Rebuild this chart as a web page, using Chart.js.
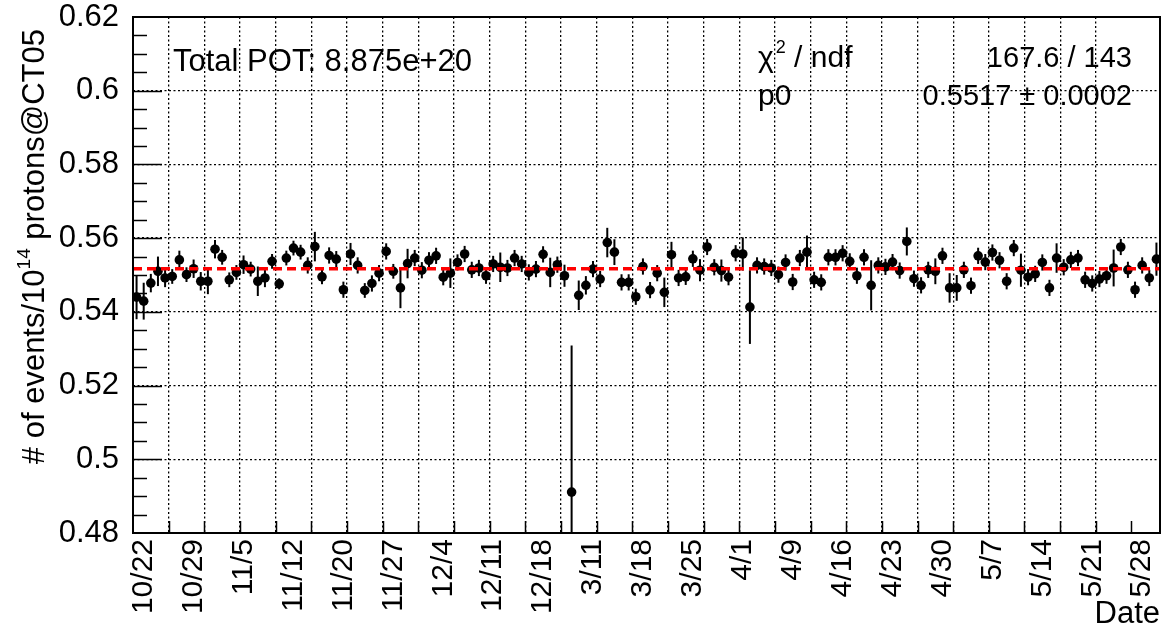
<!DOCTYPE html>
<html>
<head>
<meta charset="utf-8">
<script src="https://cdn.jsdelivr.net/npm/chart.js@4.4.1/dist/chart.umd.min.js"></script>
<style>
  html, body { margin: 0; padding: 0; background: #fff; }
  #wrap { width: 1165px; height: 633px; }
</style>
</head>
<body>
<div id="wrap"><canvas id="rateChart" width="1165" height="633"></canvas></div>
<script>
const FONT = "'Liberation Sans', Arial, Helvetica, sans-serif";

// one label every 7th bin, starting at bin 1
const dateLabels = ["10/22", "10/29", "11/5", "11/12", "11/20", "11/27", "12/4", "12/11", "12/18",
  "3/11", "3/18", "3/25", "4/1", "4/9", "4/16", "4/23", "4/30", "5/7", "5/14", "5/21", "5/28"];
const labelFirstBin = 1;
const labelEvery = 7;

// events per 1e14 protons, one value per bin
const rate = [
  0.5440, 0.5429, 0.5478, 0.5510, 0.5492, 0.5496, 0.5541, 0.5501, 0.5517, 0.5483,
  0.5483, 0.5570, 0.5548, 0.5487, 0.5507, 0.5528, 0.5516, 0.5483, 0.5492, 0.5537,
  0.5476, 0.5546, 0.5573, 0.5562, 0.5526, 0.5577, 0.5495, 0.5553, 0.5543, 0.5460,
  0.5557, 0.5526, 0.5458, 0.5477, 0.5505, 0.5564, 0.5510, 0.5465, 0.5531, 0.5546,
  0.5513, 0.5540, 0.5552, 0.5494, 0.5505, 0.5534, 0.5557, 0.5514, 0.5519, 0.5498,
  0.5530, 0.5521, 0.5519, 0.5546, 0.5530, 0.5507, 0.5516, 0.5556, 0.5507, 0.5528,
  0.5498, 0.4911, 0.5445, 0.5472, 0.5516, 0.5489, 0.5588, 0.5562, 0.5480, 0.5480,
  0.5441, 0.5523, 0.5459, 0.5505, 0.5453, 0.5555, 0.5492, 0.5495, 0.5544, 0.5513,
  0.5576, 0.5521, 0.5512, 0.5494, 0.5559, 0.5557, 0.5413, 0.5526, 0.5523, 0.5519,
  0.5501, 0.5534, 0.5481, 0.5546, 0.5562, 0.5487, 0.5480, 0.5548, 0.5548, 0.5559,
  0.5537, 0.5498, 0.5548, 0.5472, 0.5526, 0.5522, 0.5535, 0.5512, 0.5591, 0.5490,
  0.5472, 0.5514, 0.5510, 0.5552, 0.5465, 0.5465, 0.5514, 0.5471, 0.5552, 0.5535,
  0.5561, 0.5540, 0.5483, 0.5573, 0.5513, 0.5494, 0.5503, 0.5534, 0.5465, 0.5546,
  0.5521, 0.5541, 0.5546, 0.5487, 0.5477, 0.5489, 0.5498, 0.5519, 0.5576, 0.5514,
  0.5460, 0.5526, 0.5492, 0.5543
];

const rateErr = [
  0.0060, 0.0050, 0.0025, 0.0040, 0.0025, 0.0020, 0.0025, 0.0020, 0.0025, 0.0025,
  0.0035, 0.0025, 0.0020, 0.0020, 0.0020, 0.0025, 0.0020, 0.0040, 0.0025, 0.0020,
  0.0015, 0.0020, 0.0020, 0.0020, 0.0022, 0.0040, 0.0020, 0.0022, 0.0022, 0.0022,
  0.0030, 0.0022, 0.0020, 0.0022, 0.0022, 0.0022, 0.0020, 0.0055, 0.0040, 0.0022,
  0.0022, 0.0022, 0.0022, 0.0022, 0.0040, 0.0022, 0.0022, 0.0022, 0.0022, 0.0022,
  0.0022, 0.0040, 0.0022, 0.0022, 0.0022, 0.0022, 0.0022, 0.0022, 0.0040, 0.0022,
  0.0030, 0.0398, 0.0040, 0.0025, 0.0022, 0.0022, 0.0040, 0.0035, 0.0022, 0.0022,
  0.0022, 0.0022, 0.0022, 0.0022, 0.0040, 0.0035, 0.0022, 0.0022, 0.0022, 0.0030,
  0.0022, 0.0022, 0.0030, 0.0022, 0.0022, 0.0045, 0.0100, 0.0022, 0.0022, 0.0022,
  0.0022, 0.0022, 0.0022, 0.0022, 0.0045, 0.0022, 0.0022, 0.0022, 0.0022, 0.0022,
  0.0022, 0.0022, 0.0022, 0.0068, 0.0022, 0.0022, 0.0022, 0.0022, 0.0038, 0.0022,
  0.0022, 0.0022, 0.0035, 0.0022, 0.0040, 0.0035, 0.0022, 0.0022, 0.0022, 0.0022,
  0.0022, 0.0022, 0.0022, 0.0022, 0.0045, 0.0022, 0.0022, 0.0022, 0.0022, 0.0040,
  0.0022, 0.0022, 0.0022, 0.0022, 0.0022, 0.0022, 0.0022, 0.0050, 0.0022, 0.0022,
  0.0022, 0.0022, 0.0022, 0.0045
];

// constant fit results
const fitP0 = 0.5517;
const fitP0Err = 0.0002;
const fitChi2 = 167.6;
const fitNdf = 143;
const totalPot = "8.875e+20";

const Y_MIN = 0.48;
const Y_MAX = 0.62;

function yLabel(v) {
  return Number(v.toFixed(2)).toString();
}

function font(size) {
  return `${size}px ${FONT}`;
}

// vertical error bars under the markers
const errorBars = {
  id: "errorBars",
  beforeDatasetsDraw(chart) {
    const { ctx, chartArea, scales } = chart;
    ctx.save();
    ctx.beginPath();
    ctx.rect(chartArea.left, chartArea.top, chartArea.right - chartArea.left, chartArea.bottom - chartArea.top);
    ctx.clip();
    ctx.strokeStyle = "#000";
    ctx.lineWidth = 2;
    rate.forEach((v, i) => {
      const x = scales.x.getPixelForValue(i + 0.5);
      ctx.beginPath();
      ctx.moveTo(x, scales.y.getPixelForValue(v - rateErr[i]));
      ctx.lineTo(x, scales.y.getPixelForValue(v + rateErr[i]));
      ctx.stroke();
    });
    ctx.restore();
  }
};

// frame, inward tick marks and text boxes
const frame = {
  id: "frame",
  afterDraw(chart) {
    const { ctx, chartArea, scales } = chart;
    const { left, right, top, bottom } = chartArea;
    ctx.save();
    ctx.strokeStyle = "#000";

    ctx.lineWidth = 1.5;
    for (let b = 5; b < rate.length; b += 5) {
      const x = Math.round(scales.x.getPixelForValue(b)) + 0.5;
      ctx.beginPath();
      ctx.moveTo(x, bottom);
      ctx.lineTo(x, bottom - 12);
      ctx.stroke();
    }
    for (let k = 1; k < 28; k++) {
      const v = Y_MIN + k * 0.005;
      const y = Math.round(scales.y.getPixelForValue(v)) + 0.5;
      ctx.beginPath();
      ctx.moveTo(left, y);
      ctx.lineTo(left + (k % 4 === 0 ? 29 : 14), y);
      ctx.stroke();
    }

    ctx.lineWidth = 2;
    ctx.strokeRect(left, top, right - left, bottom - top);

    ctx.fillStyle = "#000";
    ctx.textBaseline = "middle";
    ctx.font = font(31);
    ctx.textAlign = "left";
    ctx.fillText(`Total POT: ${totalPot}`, 173, 62);

    // fit statistics, chi2 with a raised exponent
    const sx = 758;
    ctx.font = font(30);
    ctx.fillText("\u03c7", sx, 59);
    const wChi = ctx.measureText("\u03c7").width;
    ctx.font = font(18);
    ctx.fillText("2", sx + wChi + 2, 48);
    const wTwo = ctx.measureText("2").width;
    ctx.font = font(30);
    ctx.fillText(" / ndf", sx + wChi + wTwo + 2, 59);
    ctx.fillText("p0", sx, 97);
    ctx.font = font(29);
    ctx.textAlign = "right";
    ctx.fillText(`${fitChi2.toFixed(1)} / ${fitNdf}`, 1132, 59);
    ctx.fillText(`${fitP0.toFixed(4)} \u00b1 ${fitP0Err.toFixed(4)}`, 1132, 97);

    // y axis title with superscript exponent
    ctx.translate(35, 29);
    ctx.rotate(-Math.PI / 2);
    ctx.textAlign = "left";
    const partA = "# of events/10";
    const partB = "14";
    const partC = " protons@CT05";
    ctx.font = font(31);
    const wA = ctx.measureText(partA).width;
    const wC = ctx.measureText(partC).width;
    ctx.font = font(19);
    const wB = ctx.measureText(partB).width;
    const x0 = -(wA + wB + wC);
    ctx.font = font(31);
    ctx.fillText(partA, x0, 0);
    ctx.font = font(19);
    ctx.fillText(partB, x0 + wA, -10);
    ctx.font = font(31);
    ctx.fillText(partC, x0 + wA + wB, 0);
    ctx.restore();
  }
};

const ctx = document.getElementById("rateChart");

new Chart(ctx, {
  type: "scatter",
  data: {
    datasets: [
      {
        label: "fit",
        type: "line",
        data: [{ x: 0, y: fitP0 }, { x: rate.length, y: fitP0 }],
        borderColor: "#ff0000",
        borderWidth: 3.5,
        borderDash: [9, 5],
        pointRadius: 0,
        order: 0
      },
      {
        label: "rate",
        data: rate.map((v, i) => ({ x: i + 0.5, y: v })),
        pointRadius: 4.8,
        pointBackgroundColor: "#000",
        pointBorderWidth: 0,
        order: 1
      }
    ]
  },
  options: {
    responsive: false,
    animation: false,
    devicePixelRatio: 1,
    layout: { padding: { left: 0, right: 5, top: 17, bottom: 0 } },
    plugins: {
      legend: { display: false },
      tooltip: { enabled: false }
    },
    scales: {
      x: {
        type: "linear",
        position: "bottom",
        min: 0,
        max: rate.length,
        ticks: { display: false, stepSize: 5 },
        grid: { color: "#000", lineWidth: 1.3, drawTicks: false },
        border: { display: false, dash: [2, 2.5] },
        afterFit(s) {
          s.height = 0;
          s.paddingLeft = 0;
          s.paddingRight = 0;
        }
      },
      dates: {
        type: "linear",
        position: "bottom",
        min: 0,
        max: rate.length,
        grid: { display: false, drawTicks: false },
        border: { display: false },
        afterBuildTicks(s) {
          s.ticks = dateLabels.map((_, k) => ({ value: labelFirstBin + k * labelEvery + 0.5 }));
        },
        ticks: {
          autoSkip: false,
          minRotation: 90,
          maxRotation: 90,
          padding: 6,
          color: "#000",
          font: { family: FONT, size: 30 },
          callback: (v, i) => dateLabels[i]
        },
        title: {
          display: true,
          text: "Date",
          align: "end",
          color: "#000",
          font: { family: FONT, size: 31 },
          padding: 0
        },
        afterFit(s) {
          s.height = 100;
          s.paddingLeft = 0;
          s.paddingRight = 0;
        }
      },
      y: {
        min: Y_MIN,
        max: Y_MAX,
        ticks: {
          stepSize: 0.02,
          padding: 14,
          color: "#000",
          font: { family: FONT, size: 31 },
          callback: (v) => yLabel(v)
        },
        grid: { color: "#000", lineWidth: 1.3, drawTicks: false },
        border: { display: false, dash: [2, 2.5] },
        afterFit(s) {
          s.width = 133;
          s.paddingTop = 0;
          s.paddingBottom = 0;
        }
      }
    }
  },
  plugins: [errorBars, frame]
});
</script>
</body>
</html>
